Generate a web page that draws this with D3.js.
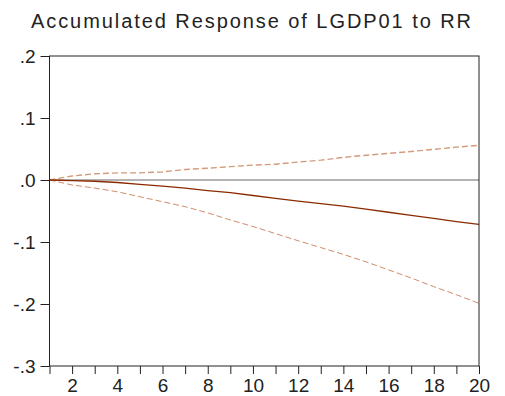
<!DOCTYPE html>
<html>
<head>
<meta charset="utf-8">
<script src="https://cdn.jsdelivr.net/npm/d3@7"></script>
<style>
  body { margin: 0; background: #fff; }
  text { font-family: "Liberation Sans", Arial, sans-serif; fill: #222; }
</style>
</head>
<body>
<script>
var chartTitle = "Accumulated Response of LGDP01 to RR";
var periods  = d3.range(1, 21);
var response = [0, -0.001, -0.002, -0.004, -0.007, -0.010, -0.013, -0.017, -0.0205, -0.025,
                -0.0297, -0.034, -0.038, -0.042, -0.047, -0.052, -0.057, -0.062, -0.067, -0.0715];
var upper    = [0, 0.0065, 0.010, 0.0115, 0.0115, 0.013, 0.017, 0.019, 0.0215, 0.024,
                0.0255, 0.029, 0.032, 0.0365, 0.040, 0.043, 0.046, 0.0495, 0.053, 0.056];
var lower    = [0, -0.008, -0.013, -0.019, -0.027, -0.035, -0.043, -0.053, -0.0645, -0.075,
                -0.0865, -0.098, -0.109, -0.120, -0.132, -0.145, -0.158, -0.172, -0.185, -0.199];
var yTicks   = [0.2, 0.1, 0, -0.1, -0.2, -0.3];
var yLabels  = [".2", ".1", ".0", "-.1", "-.2", "-.3"];
var xLabelTicks = [2, 4, 6, 8, 10, 12, 14, 16, 18, 20];

var width  = 505;
var height = 396;
var margin = {top: 56, right: 26, bottom: 30, left: 49.5};

var svg = d3.select("body")
    .append("svg")
    .attr("width", width)
    .attr("height", height);

var x = d3.scaleLinear()
    .domain([1, 20])
    .range([margin.left, width - margin.right]);

var y = d3.scaleLinear()
    .domain([-0.3, 0.2])
    .range([height - margin.bottom, margin.top]);

// title
svg.append("text")
    .attr("x", 31)
    .attr("y", 27.5)
    .attr("font-size", 20)
    .attr("textLength", 440)
    .attr("lengthAdjust", "spacing")
    .text(chartTitle);

// zero line
svg.append("line")
    .attr("x1", x(1)).attr("x2", x(20))
    .attr("y1", y(0)).attr("y2", y(0))
    .attr("stroke", "#9a9a9a")
    .attr("stroke-width", 1.5);

var line = d3.line()
    .x(function (d, i) { return x(periods[i]); })
    .y(function (d) { return y(d); });

svg.append("path")
    .datum(upper)
    .attr("d", line)
    .attr("fill", "none")
    .attr("stroke", "#d49a7c")
    .attr("stroke-width", 1.4)
    .attr("stroke-dasharray", "6,3");

svg.append("path")
    .datum(lower)
    .attr("d", line)
    .attr("fill", "none")
    .attr("stroke", "#d08c6a")
    .attr("stroke-width", 1)
    .attr("stroke-dasharray", "6,3");

svg.append("path")
    .datum(response)
    .attr("d", line)
    .attr("fill", "none")
    .attr("stroke", "#8b2a00")
    .attr("stroke-width", 1.3);

// axes
var yAxis = d3.axisLeft(y)
    .tickValues(yTicks)
    .tickSize(9)
    .tickPadding(5)
    .tickFormat(function (d, i) { return yLabels[i]; });

var gy = svg.append("g")
    .attr("transform", "translate(" + margin.left + ",0)")
    .call(yAxis);

var xAxis = d3.axisBottom(x)
    .tickValues(periods)
    .tickSize(8)
    .tickPadding(5)
    .tickFormat(function (d) { return xLabelTicks.indexOf(d) >= 0 ? d : ""; });

var gx = svg.append("g")
    .attr("transform", "translate(0," + (height - margin.bottom) + ")")
    .call(xAxis);

[gx, gy].forEach(function (g) {
    g.select(".domain").remove();
    g.selectAll("line").attr("stroke", "#222");
    g.selectAll("text")
        .attr("font-size", 19)
        .attr("font-family", "Liberation Sans, Arial, sans-serif")
        .attr("fill", "#222");
});

// frame
svg.append("rect")
    .attr("x", x(1))
    .attr("y", y(0.2))
    .attr("width", x(20) - x(1))
    .attr("height", y(-0.3) - y(0.2))
    .attr("fill", "none")
    .attr("stroke", "#222")
    .attr("stroke-width", 1);
</script>
</body>
</html>
